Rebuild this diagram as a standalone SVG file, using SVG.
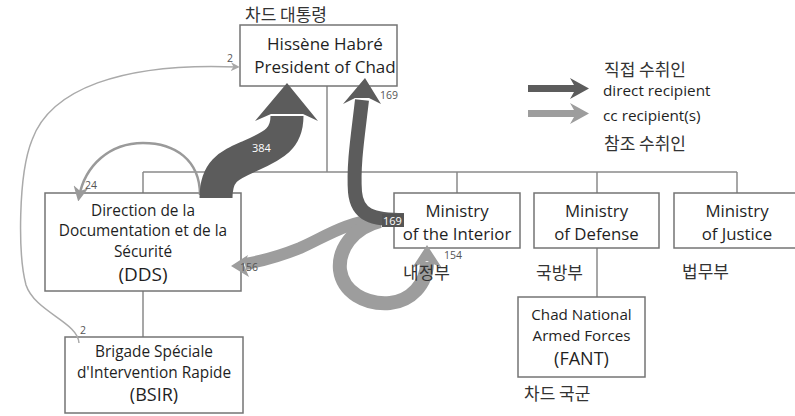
<svg xmlns="http://www.w3.org/2000/svg" width="795" height="416" viewBox="0 0 795 416">
  <style>
    .box { fill: #ffffff; stroke: #747474; stroke-width: 1.5; }
    .tree { fill: none; stroke: #8a8a8a; stroke-width: 1.5; }
    .t { font-family: "Open Sans", "Noto Sans", sans-serif; fill: #1f1f1f; text-anchor: middle; }
    .ts { font-family: "Open Sans", "Noto Sans", sans-serif; fill: #1f1f1f; font-size: 15.3px; }
    .ko { font-family: "Noto Sans CJK KR", sans-serif; fill: #333333; font-size: 17px; }
    .num { font-family: "Open Sans", "Noto Sans", sans-serif; font-size: 10.5px; fill: #555555; }
    .numw { font-family: "Open Sans", "Noto Sans", sans-serif; font-size: 11px; fill: #ffffff; }
    .dark { fill: none; stroke: #5c5c5c; stroke-linecap: butt; }
    .light { fill: none; stroke: #9d9d9d; stroke-linecap: butt; }
    .darkhead { fill: #5c5c5c; }
    .lighthead { fill: #9d9d9d; }
  </style>
  <defs>
    <marker id="thinhead" viewBox="0 0 10 10" refX="8" refY="5" markerWidth="9" markerHeight="9" markerUnits="userSpaceOnUse" orient="auto">
      <path d="M0,0 L10,5 L0,10 L3,5 Z" fill="#a8a8a8"/>
    </marker>
    <marker id="archead" viewBox="0 0 10 10" refX="7" refY="5" markerWidth="15" markerHeight="15" markerUnits="userSpaceOnUse" orient="auto">
      <path d="M0,0 L10,5 L0,10 L3,5 Z" fill="#9a9a9a"/>
    </marker>
  </defs>

  <rect width="795" height="416" fill="#ffffff"/>

  <!-- organisational tree lines -->
  <g id="tree-lines">
    <path class="tree" d="M327,86 V172 M143,172 H737 M143,172 V193 M457,172 V193 M597,172 V193 M737,172 V193"/>
    <path class="tree" d="M143,291 V337"/>
    <path class="tree" d="M597,248 V297"/>
  </g>

  <!-- nodes -->
  <g id="president">
    <rect class="box" x="240" y="25" width="157" height="61"/>
    <text class="t" x="325" y="50" font-size="17">Hissène Habré</text>
    <text class="t" x="325" y="73" font-size="17">President of Chad</text>
    <text class="ko" x="245" y="21">차드 대통령</text>
  </g>

  <g id="dds">
    <rect class="box" x="45" y="193" width="196" height="98"/>
    <text class="t" x="143" y="216" font-size="15.4">Direction de la</text>
    <text class="t" x="143" y="236" font-size="15.4">Documentation et de la</text>
    <text class="t" x="143" y="257" font-size="15.4">Sécurité</text>
    <text class="t" x="143" y="281" font-size="19">(DDS)</text>
  </g>

  <g id="bsir">
    <rect class="box" x="65" y="337" width="178" height="76"/>
    <text class="t" x="154" y="357" font-size="15.4">Brigade Spéciale</text>
    <text class="t" x="154" y="378" font-size="15.4">d'Intervention Rapide</text>
    <text class="t" x="154" y="401" font-size="18">(BSIR)</text>
  </g>

  <g id="interior">
    <rect class="box" x="394" y="193" width="126" height="55"/>
    <text class="t" x="457" y="217" font-size="16.8">Ministry</text>
    <text class="t" x="457" y="240" font-size="16.8">of the Interior</text>
  </g>

  <g id="defense">
    <rect class="box" x="534" y="193" width="125" height="55"/>
    <text class="t" x="596.5" y="217" font-size="16.8">Ministry</text>
    <text class="t" x="596.5" y="240" font-size="16.8">of Defense</text>
    <text class="ko" x="536" y="279">국방부</text>
  </g>

  <g id="justice">
    <rect class="box" x="674" y="193" width="130" height="55"/>
    <text class="t" x="737" y="217" font-size="16.8">Ministry</text>
    <text class="t" x="737" y="240" font-size="16.8">of Justice</text>
    <text class="ko" x="682" y="278">법무부</text>
  </g>

  <g id="fant">
    <rect class="box" x="518" y="297" width="127" height="80"/>
    <text class="t" x="581.5" y="320" font-size="15.2">Chad National</text>
    <text class="t" x="581.5" y="341" font-size="15.2">Armed Forces</text>
    <text class="t" x="581.5" y="365" font-size="18">(FANT)</text>
    <text class="ko" x="524" y="400">차드 국군</text>
  </g>

  <!-- legend -->
  <g id="legend">
    <polygon class="darkhead" points="528,85 574,85 570,78 589,88.5 570,99 574,92 528,92"/>
    <polygon class="lighthead" points="528,110 574,110 570,103 589,113.5 570,124 574,117 528,117"/>
    <text class="ko" x="604" y="76">직접 수취인</text>
    <text class="ts" x="603" y="96">direct recipient</text>
    <text class="ts" x="603" y="121">cc recipient(s)</text>
    <text class="ko" x="604" y="150">참조 수취인</text>
  </g>

  <!-- message flows -->
  <g id="connectors">
    <!-- BSIR to President (cc, 2) -->
    <path d="M79,343 C78,322 35,312 26,285 C18,255 18,175 32,140 C50,90 120,62 238,67" fill="none" stroke="#aaaaaa" stroke-width="1.5" marker-end="url(#thinhead)"/>
    <text class="num" x="227" y="62">2</text>
    <text class="num" x="80" y="334">2</text>

    <!-- DDS to itself (cc, 24) -->
    <path d="M200,195 C200,160 175,143 143,143 C110,143 85,165 79,197" fill="none" stroke="#9a9a9a" stroke-width="2.5" marker-end="url(#archead)"/>
    <text class="num" x="85" y="189">24</text>

    <!-- Interior to DDS (cc, 156) -->
    <path class="light" stroke-width="12" d="M380,219 C345,222 325,237 300,248 C280,256 262,261 245,264"/>
    <polygon class="lighthead" points="231,266 248,255 244,265 249,277"/>
    <text class="num" x="240" y="271">156</text>

    <!-- Interior to itself (cc, 154) -->
    <path class="light" stroke-width="14" d="M380,221 C352,228 338,250 340,270 C343,292 365,305 390,303 C410,301 427,285 427,262"/>
    <polygon class="lighthead" points="427,245 442,268 427,261 412,268"/>
    <text class="num" x="444" y="259">154</text>

    <!-- DDS to President (direct, 384) -->
    <path class="dark" stroke-width="33" d="M216,198 C216,170 230,165 250,156 C275,145 287,138 287,116"/>
    <polygon class="darkhead" points="287,83 318,121 303,114 271,114 255,121"/>
    <text class="numw" x="252" y="152">384</text>

    <!-- Interior to President (direct, 169) -->
    <path class="dark" stroke-width="14" d="M362,100 C358,135 353,165 355,192 C357,215 372,220 404,220"/>
    <polygon class="darkhead" points="365,78 381,104 369,98 355,98 343,104"/>
    <rect x="382" y="214" width="22" height="13" fill="#555555"/>
    <text class="numw" x="383" y="224.5" font-size="10.5">169</text>
    <text class="num" x="380" y="99">169</text>
  </g>

  <!-- Korean label of the Interior ministry, printed over the 154 loop -->
  <g id="interior-label">
    <text class="ko" x="403" y="279">내정부</text>
  </g>
</svg>
